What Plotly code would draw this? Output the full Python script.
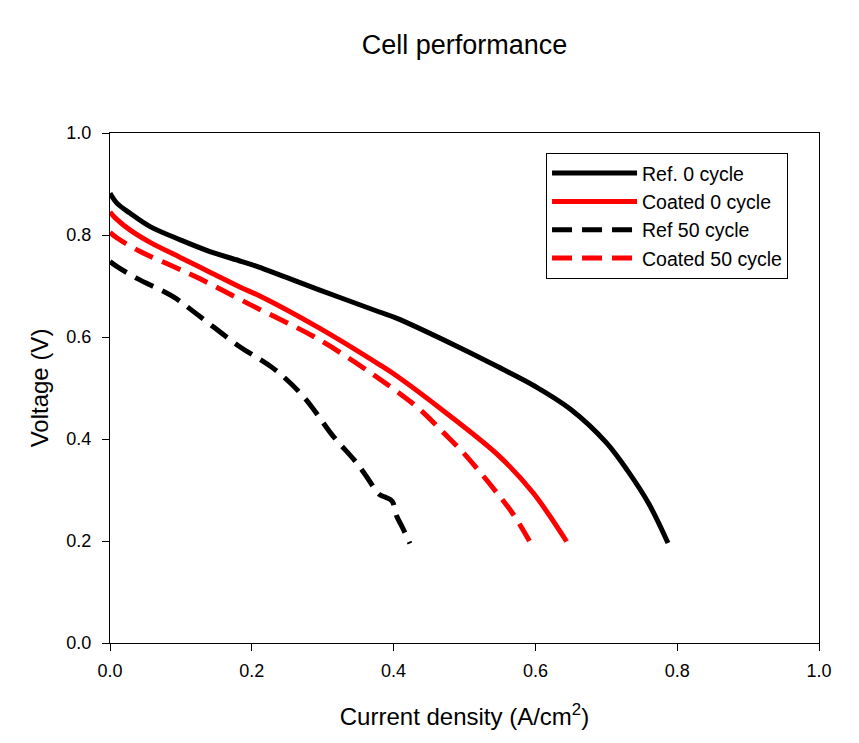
import plotly.graph_objects as go

# Current density (A/cm^2) and voltage (V)
ref0_i = [0, 0.01, 0.028, 0.056, 0.1, 0.14, 0.186, 0.21, 0.296, 0.38, 0.404, 0.492, 0.548, 0.6, 0.65, 0.7, 0.73, 0.76, 0.787]
ref0_v = [0.882, 0.862, 0.843, 0.817, 0.790, 0.768, 0.748, 0.737, 0.692, 0.649, 0.637, 0.580, 0.541, 0.503, 0.458, 0.393, 0.338, 0.273, 0.196]

coat0_i = [0, 0.01, 0.028, 0.056, 0.099, 0.141, 0.183, 0.212, 0.296, 0.381, 0.404, 0.475, 0.55, 0.597, 0.644]
coat0_v = [0.845, 0.830, 0.810, 0.786, 0.756, 0.727, 0.698, 0.680, 0.617, 0.545, 0.524, 0.450, 0.365, 0.294, 0.199]

ref50_i = [0, 0.01, 0.038, 0.089, 0.127, 0.183, 0.23, 0.273, 0.315, 0.345, 0.362, 0.372, 0.381, 0.39, 0.398, 0.404, 0.413, 0.423]
ref50_v = [0.748, 0.738, 0.715, 0.679, 0.640, 0.581, 0.539, 0.483, 0.405, 0.358, 0.326, 0.305, 0.290, 0.285, 0.278, 0.250, 0.225, 0.195]

coat50_i = [0, 0.01, 0.042, 0.08, 0.127, 0.197, 0.296, 0.395, 0.437, 0.47, 0.501, 0.55, 0.569, 0.592]
coat50_v = [0.805, 0.794, 0.768, 0.744, 0.714, 0.664, 0.594, 0.503, 0.458, 0.413, 0.369, 0.287, 0.252, 0.199]

names = ["Ref. 0 cycle", "Coated 0 cycle", "Ref 50 cycle", "Coated 50 cycle"]
tick_vals = [0.0, 0.2, 0.4, 0.6, 0.8, 1.0]
tick_text = ["0.0", "0.2", "0.4", "0.6", "0.8", "1.0"]

FONT = "Liberation Sans, Arial, sans-serif"
PAGE_OFFSET = 8  # default body margin of the page

fig = go.Figure()
series = [
    (ref0_i, ref0_v, names[0], "black", "solid"),
    (coat0_i, coat0_v, names[1], "red", "solid"),
    (ref50_i, ref50_v, names[2], "black", "20px,10px"),
    (coat50_i, coat50_v, names[3], "red", "20px,10px"),
]
for xs, ys, nm, col, dash in series:
    fig.add_trace(go.Scatter(x=xs, y=ys, mode="lines", name=nm,
                             line=dict(color=col, width=5, dash=dash, shape="spline", smoothing=1.0)))

axis_common = dict(range=[0, 1], tickvals=tick_vals, ticktext=tick_text,
                   showline=True, linecolor="black", linewidth=1, mirror=True,
                   ticks="outside", ticklen=7, tickcolor="black", tickwidth=1,
                   showgrid=False, zeroline=False, automargin=False,
                   tickfont=dict(family=FONT, size=18, color="black"))

W, H = 859 - PAGE_OFFSET, 743 - PAGE_OFFSET
fig.update_layout(
    width=W, height=H,
    margin=dict(l=110 - PAGE_OFFSET, r=40, t=133 - PAGE_OFFSET, b=100),
    paper_bgcolor="white", plot_bgcolor="white",
    title=dict(text="Cell performance", x=0.5, xref="paper", xanchor="center",
               y=1 - (45 - PAGE_OFFSET) / H, yanchor="middle",
               font=dict(family=FONT, size=27, color="black")),
    xaxis=dict(title=dict(text="Current density (A/cm<sup>2</sup>)", standoff=28,
                          font=dict(family=FONT, size=24, color="black")),
               ticklabelstandoff=4, **axis_common),
    yaxis=dict(title=dict(text="Voltage (V)", standoff=10,
                          font=dict(family=FONT, size=24, color="black")),
               ticklabelstandoff=7, **axis_common),
    legend=dict(x=0.615, y=0.961, xanchor="left", yanchor="top",
                bordercolor="black", borderwidth=1, bgcolor="white",
                font=dict(family=FONT, size=19.5, color="black"), itemwidth=85),
    showlegend=True,
)

fig.write_html("out.html")
